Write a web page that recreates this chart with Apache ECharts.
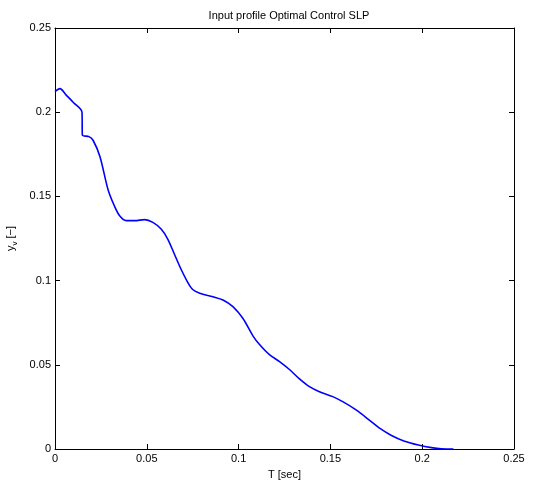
<!DOCTYPE html>
<html>
<head>
<meta charset="utf-8">
<script src="https://cdn.jsdelivr.net/npm/echarts@6/dist/echarts.min.js"></script>
<style>
html,body{margin:0;padding:0;background:#fff;}
#c{width:534px;height:481px;}
</style>
</head>
<body>
<div id="c"></div>
<script>
const titleText = 'Input profile Optimal Control SLP';
const xName = 'T [sec]';
const xTicks = [0, 0.05, 0.1, 0.15, 0.2, 0.25];
const yTicks = [0, 0.05, 0.1, 0.15, 0.2, 0.25];
const tValues = [0, 0.0027, 0.0060, 0.0100, 0.0147, 0.0149, 0.0185, 0.0208, 0.0245, 0.0289, 0.0325, 0.0352, 0.0388, 0.0434, 0.0488, 0.0533, 0.0578, 0.0614, 0.0650, 0.0686, 0.0723, 0.0750, 0.0788, 0.0860, 0.0915, 0.0969, 0.1023, 0.1078, 0.1114, 0.1168, 0.1223, 0.1277, 0.1330, 0.1386, 0.1440, 0.1513, 0.1567, 0.1640, 0.1712, 0.1770, 0.1830, 0.1900, 0.1979, 0.2050, 0.2104, 0.2170];
const yValues = [0.2122, 0.2140, 0.2103, 0.2058, 0.2000, 0.1865, 0.1855, 0.1832, 0.1736, 0.1540, 0.1440, 0.1385, 0.1356, 0.1356, 0.1362, 0.1346, 0.1306, 0.1247, 0.1158, 0.1069, 0.0990, 0.0947, 0.0925, 0.0904, 0.0885, 0.0845, 0.0776, 0.0672, 0.0620, 0.0560, 0.0519, 0.0472, 0.0418, 0.0370, 0.0340, 0.0311, 0.0281, 0.0232, 0.0172, 0.0122, 0.0082, 0.0048, 0.0024, 0.0008, 0.0001, 0.0000];

const data = tValues.map((t, i) => [t, yValues[i]]);
const font = 'Liberation Sans, Arial, Helvetica, sans-serif';
const fmt = v => String(+v.toFixed(4));

const baseAxis = {
  min: 0, max: 0.25, interval: 0.05,
  axisLine: {show: true, onZero: false, lineStyle: {color: '#000', width: 1}},
  axisTick: {show: true, inside: true, length: 5, lineStyle: {color: '#000'}},
  splitLine: {show: false},
};

const chart = echarts.init(document.getElementById('c'), null, {renderer: 'canvas'});
chart.setOption({
  animation: false,
  backgroundColor: '#fff',
  title: {
    text: titleText, left: 284, top: 5, textAlign: 'center',
    textStyle: {fontFamily: font, fontSize: 11, fontWeight: 'normal', color: '#000'}
  },
  grid: {left: 55, right: 20, top: 28, bottom: 32, containLabel: false, outerBoundsMode: 'none'},
  xAxis: [
    Object.assign({}, baseAxis, {
      type: 'value', position: 'bottom',
      name: xName, nameLocation: 'middle', nameGap: 20,
      nameTextStyle: {fontFamily: font, fontSize: 11, color: '#000'},
      axisLabel: {fontFamily: font, fontSize: 11, color: '#000', margin: 4, formatter: fmt, showMaxLabel: true, showMinLabel: true}
    }),
    Object.assign({}, baseAxis, {
      type: 'value', position: 'top', axisLabel: {show: false}
    })
  ],
  yAxis: [
    Object.assign({}, baseAxis, {
      type: 'value', position: 'left',
      name: '{n|y}{sub|v}{n| [−]}', nameLocation: 'middle', nameGap: 23, nameRotate: 90,
      nameTextStyle: {fontFamily: font, fontSize: 11, color: '#000',
        rich: {
          n: {fontFamily: font, fontSize: 11, color: '#000', lineHeight: 16, verticalAlign: 'middle'},
          sub: {fontFamily: font, fontSize: 8, color: '#000', lineHeight: 8, verticalAlign: 'bottom'}
        }},
      axisLabel: {fontFamily: font, fontSize: 11, color: '#000', margin: 4, formatter: fmt}
    }),
    Object.assign({}, baseAxis, {
      type: 'value', position: 'right', axisLabel: {show: false}
    })
  ],
  series: [{
    type: 'line',
    data: data,
    xAxisIndex: 0, yAxisIndex: 0,
    showSymbol: false,
    smooth: 0.3,
    lineStyle: {color: '#0000ff', width: 1.6},
    itemStyle: {color: '#0000ff'}
  }]
});
</script>
</body>
</html>
